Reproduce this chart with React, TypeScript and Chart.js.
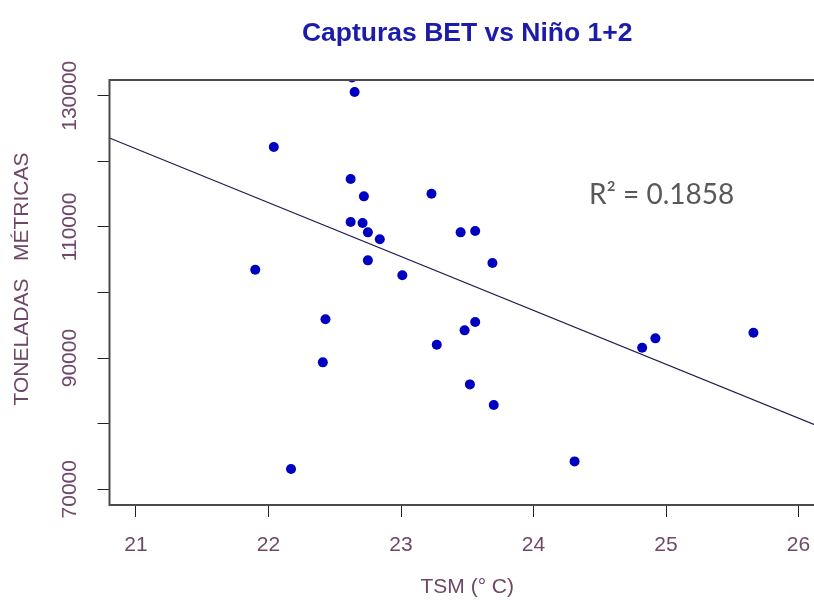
import React, { useEffect, useRef } from 'react';
import { Chart, registerables } from 'chart.js';

Chart.register(...registerables);

// ---- text ----
const TITLE = 'Capturas BET vs Niño 1+2';
const X_TITLE = 'TSM (° C)';
const Y_TITLE = 'TONELADAS   MÉTRICAS';
const R2_LABEL = 'R² = 0.1858';

// ---- data ----
const tsm = [
  22.65, 22.04, 22.62, 22.72, 23.23, 22.62, 22.71, 22.75, 22.84, 23.45,
  23.56, 22.75, 21.9, 23.01, 23.69, 22.43, 22.41, 22.17, 23.27, 23.48,
  23.56, 23.52, 23.7, 24.31, 24.82, 24.92, 25.66, 22.63,
];
const capturas = [
  130570, 122180, 117300, 114660, 115060, 110750, 110590, 109170, 108110, 109170,
  109370, 104900, 103470, 102620, 104490, 95910, 89350, 73080, 92030, 94230,
  95500, 85990, 82840, 74250, 91580, 93010, 93860, 132800,
];

// regression line end points
const fitX = [20.8, 26.2];
const fitY = [123560, 79190];

// axes
const xTicks = [21, 22, 23, 24, 25, 26];
const yTicks = [70000, 80000, 90000, 100000, 110000, 120000, 130000];
const yLabelTicks = [70000, 90000, 110000, 130000];
const xRange = [20.8, 26.2];
const yRange = [67600, 132400];

const FONT = '"Liberation Sans", Arial, sans-serif';
const AXIS_COLOR = '#6d4867';
const TITLE_COLOR = '#1c1caa';

const decorPlugin = {
  id: 'decor',
  afterDraw(chart: any) {
    const { ctx, chartArea: a, scales } = chart;
    ctx.save();
    // box
    ctx.strokeStyle = '#4a4a4a';
    ctx.lineWidth = 2;
    ctx.strokeRect(a.left, a.top, a.right - a.left, a.bottom - a.top);

    const cx = (a.left + a.right) / 2;

    // title
    ctx.fillStyle = TITLE_COLOR;
    ctx.font = `bold 26.5px ${FONT}`;
    ctx.textAlign = 'center';
    ctx.textBaseline = 'middle';
    ctx.fillText(TITLE, cx, 34);

    // x title
    ctx.fillStyle = AXIS_COLOR;
    ctx.font = `21px ${FONT}`;
    ctx.fillText(X_TITLE, cx, 587);

    // y tick labels (rotated)
    const ys = scales.y;
    yLabelTicks.forEach((v) => {
      const py = ys.getPixelForValue(v);
      ctx.save();
      ctx.translate(70, py);
      ctx.rotate(-Math.PI / 2);
      ctx.textAlign = 'center';
      ctx.textBaseline = 'middle';
      ctx.fillText(String(v), 0, 0);
      ctx.restore();
    });

    // y title
    ctx.save();
    ctx.translate(22, 279);
    ctx.rotate(-Math.PI / 2);
    ctx.textAlign = 'center';
    ctx.textBaseline = 'middle';
    ctx.fillText(Y_TITLE, 0, 0);
    ctx.restore();

    // R² annotation
    ctx.fillStyle = '#595959';
    ctx.font = '28px Lato, "Open Sans", sans-serif';
    ctx.textAlign = 'left';
    ctx.textBaseline = 'alphabetic';
    ctx.fillText(R2_LABEL, 589, 204);

    ctx.restore();
  },
};

export default function App() {
  const ref = useRef<HTMLCanvasElement | null>(null);

  useEffect(() => {
    if (!ref.current) return;
    const chart = new Chart(ref.current, {
      type: 'scatter',
      data: {
        datasets: [
          {
            label: 'Capturas',
            data: tsm.map((x, i) => ({ x, y: capturas[i] })),
            backgroundColor: '#0000c0',
            borderColor: '#0000c0',
            pointRadius: 5,
            pointBorderWidth: 0,
            clip: 0,
          } as any,
          {
            label: 'Ajuste',
            data: fitX.map((x, i) => ({ x, y: fitY[i] })),
            showLine: true,
            borderColor: '#1e1e4e',
            borderWidth: 1.2,
            pointRadius: 0,
            clip: 0,
          } as any,
        ],
      },
      options: {
        animation: false,
        responsive: false,
        devicePixelRatio: 1,
        layout: { padding: { top: 80, right: 4.5, left: 0, bottom: 0 } },
        plugins: {
          legend: { display: false },
          tooltip: { enabled: false },
          title: { display: false },
        },
        scales: {
          x: {
            type: 'linear',
            position: 'bottom',
            min: xRange[0],
            max: xRange[1],
            afterBuildTicks: (s: any) => {
              s.ticks = xTicks.map((v) => ({ value: v }));
            },
            afterFit: (s: any) => {
              s.height = 103;
            },
            ticks: {
              font: { size: 21, family: FONT },
              color: AXIS_COLOR,
              padding: 16,
              autoSkip: false,
              maxRotation: 0,
              callback: (v: any) => String(v),
            },
            grid: {
              drawOnChartArea: false,
              drawTicks: true,
              tickLength: 12,
              color: '#222',
              lineWidth: 1,
            },
            border: { display: false },
          },
          y: {
            type: 'linear',
            position: 'left',
            min: yRange[0],
            max: yRange[1],
            afterBuildTicks: (s: any) => {
              s.ticks = yTicks.map((v) => ({ value: v }));
            },
            afterFit: (s: any) => {
              s.width = 109.5;
            },
            ticks: { display: false },
            grid: {
              drawOnChartArea: false,
              drawTicks: true,
              tickLength: 12,
              color: '#222',
              lineWidth: 1,
            },
            border: { display: false },
          },
        },
      } as any,
      plugins: [decorPlugin],
    });
    return () => chart.destroy();
  }, []);

  return (
    <div
      style={{
        position: 'absolute',
        left: 0,
        top: 0,
        width: 814,
        height: 608,
        overflow: 'hidden',
        background: '#fff',
      }}
    >
      <canvas ref={ref} width={830} height={608} style={{ display: 'block' }} />
    </div>
  );
}
